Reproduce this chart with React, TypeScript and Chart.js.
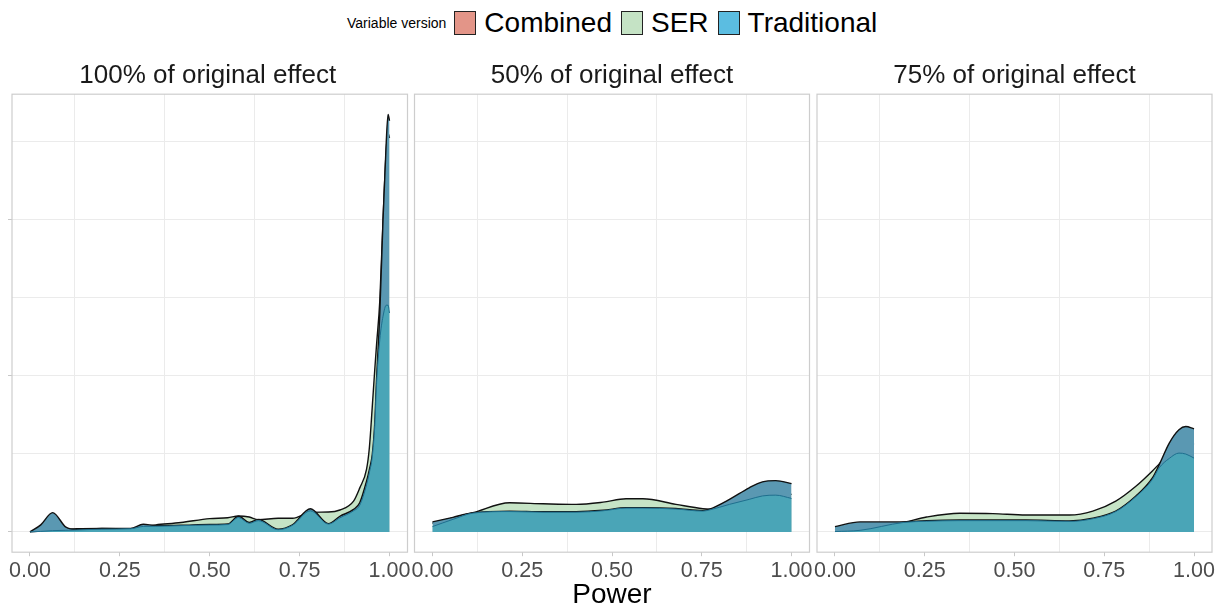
import React, { useEffect, useRef } from 'react';
import { Chart, registerables } from 'chart.js';

Chart.register(...registerables);

const FONT = '"Liberation Sans", Arial, Helvetica, sans-serif';

// ---- legend / labels ----
const SERIES_NAMES = ['Combined', 'SER', 'Traditional'];
const LEGEND_COLORS = ['#E39588', '#C5E3C5', '#5BBDE1'];
const LEGEND_TITLE = 'Variable version';
const PANEL_TITLES = ['100% of original effect', '50% of original effect', '75% of original effect'];
const X_TITLE = 'Power';

// ---- axes ----
const X_TICKS = [0, 0.25, 0.5, 0.75, 1];
const X_TICK_LABELS = ['0.00', '0.25', '0.50', '0.75', '1.00'];
const X_MINOR = [0.125, 0.375, 0.625, 0.875];
const Y_GRID = [0, 5, 10, 15, 20, 25];
const Y_MAJOR = [0, 10, 20];

// ---- panel 1: 100% of original effect ----
const P1_X = [0, 0.03, 0.063, 0.1, 0.13, 0.2, 0.28, 0.315, 0.35, 0.42, 0.5, 0.55, 0.58, 0.61, 0.635, 0.69, 0.73, 0.78, 0.83, 0.862, 0.9, 0.917, 0.936, 0.944, 0.952, 0.959, 0.964, 0.973, 0.982, 0.991, 0.996, 1.0];
const P1_COMBINED = [0, 0.45, 1.23, 0.3, 0.15, 0.22, 0.22, 0.49, 0.4, 0.42, 0.47, 0.5, 1.0, 0.6, 0.8, 0.17, 0.45, 1.48, 0.53, 1.0, 1.44, 1.86, 3.24, 4.0, 4.94, 7.0, 9.8, 14, 20, 25, 26.7, 26.3];
const P1_SER = [0, 0.05, 0.1, 0.15, 0.2, 0.22, 0.2, 0.35, 0.45, 0.6, 0.85, 0.9, 1.02, 0.95, 0.78, 0.87, 0.87, 1.25, 1.27, 1.4, 1.97, 2.8, 4.0, 5.4, 8.0, 10.4, 12.0, 14.8, 20, 24.5, 25.5, 25.2];
const P1_TRADITIONAL = [0, 0.03, 0.08, 0.1, 0.12, 0.17, 0.2, 0.35, 0.36, 0.4, 0.44, 0.47, 0.92, 0.55, 0.72, 0.14, 0.42, 1.35, 0.5, 0.9, 1.35, 1.7, 3.0, 3.8, 4.8, 6.8, 9.5, 12.3, 13.8, 14.5, 14.5, 14.0];

// ---- panel 2: 50% of original effect ----
const P2_X = [0, 0.057, 0.113, 0.215, 0.308, 0.4, 0.475, 0.539, 0.586, 0.678, 0.753, 0.771, 0.827, 0.882, 0.919, 0.956, 1.0];
const P2_COMBINED = [0.64, 0.93, 1.23, 1.33, 1.29, 1.29, 1.38, 1.55, 1.55, 1.5, 1.36, 1.45, 2.08, 2.82, 3.2, 3.28, 3.09];
const P2_SER = [0.55, 0.9, 1.23, 1.86, 1.8, 1.76, 1.9, 2.12, 2.12, 1.76, 1.48, 1.45, 1.7, 2.1, 2.4, 2.5, 2.4];
const P2_TRADITIONAL = [0.34, 0.8, 1.2, 1.3, 1.26, 1.26, 1.35, 1.52, 1.52, 1.46, 1.33, 1.4, 1.76, 2.08, 2.3, 2.35, 2.14];

// ---- panel 3: 75% of original effect ----
const P3_X = [0, 0.07, 0.19, 0.255, 0.347, 0.44, 0.532, 0.653, 0.718, 0.782, 0.838, 0.884, 0.903, 0.931, 0.958, 0.977, 1.0];
const P3_COMBINED = [0.34, 0.64, 0.64, 0.72, 0.76, 0.76, 0.76, 0.7, 0.87, 1.33, 2.29, 3.45, 4.3, 5.68, 6.53, 6.74, 6.59];
const P3_SER = [0.15, 0.35, 0.62, 0.95, 1.19, 1.17, 1.08, 1.08, 1.33, 1.97, 2.92, 3.9, 4.35, 5.0, 5.5, 5.7, 5.6];
const P3_TRADITIONAL = [0.02, 0.1, 0.6, 0.68, 0.72, 0.72, 0.72, 0.67, 0.84, 1.3, 2.25, 3.35, 4.1, 4.7, 5.04, 4.98, 4.72];

// drawn colours of the overlapping translucent areas
const AREA_FILL = { Combined: '#5A98B2', SER: '#C6E4C6', Traditional: '#4AA5B7' };
const AREA_LINE = { Combined: '#111111', SER: '#111111', Traditional: '#1E6F8E' };

const borderPlugin = {
  id: 'panelBorder',
  afterDatasetsDraw(chart: any) {
    const { ctx, chartArea: a } = chart;
    ctx.save();
    ctx.strokeStyle = '#CDCDCD';
    ctx.lineWidth = 1.2;
    ctx.strokeRect(a.left, a.top, a.right - a.left, a.bottom - a.top);
    ctx.restore();
  },
};

type PanelProps = {
  title: string;
  xs: number[];
  combined: number[];
  ser: number[];
  trad: number[];
  yTicks: boolean;
  left: number;
  width: number;
  padLeft: number;
  padRight: number;
};

const CANVAS_H = 526;

function Panel(p: PanelProps) {
  const ref = useRef<HTMLCanvasElement | null>(null);
  useEffect(() => {
    if (!ref.current) return;
    const pts = (ys: number[]) => p.xs.map((x, i) => ({ x, y: ys[i] }));
    const mk = (name: string, ys: number[], order: number, bw: number) => ({
      label: name,
      data: pts(ys),
      order,
      fill: 'origin',
      backgroundColor: (AREA_FILL as any)[name],
      borderColor: (AREA_LINE as any)[name],
      borderWidth: bw,
      pointRadius: 0,
      cubicInterpolationMode: 'monotone',
    });
    const xAll = [...X_TICKS, ...X_MINOR].sort((a, b) => a - b);
    const chart = new Chart(ref.current, {
      type: 'line',
      data: {
        datasets: [
          mk('Traditional', p.trad, 0, 1),
          mk('Combined', p.combined, 1, 1.4),
          mk('SER', p.ser, 2, 1.4),
        ] as any,
      },
      options: {
        animation: false,
        responsive: false,
        layout: { padding: { left: p.padLeft, right: p.padRight, top: 0, bottom: 0 } },
        plugins: {
          legend: { display: false },
          tooltip: { enabled: false },
          title: {
            display: true,
            text: p.title,
            color: '#1A1A1A',
            font: { family: FONT, size: 26, weight: 'normal' as any },
            padding: { top: 0, bottom: 3 },
          },
        },
        scales: {
          x: {
            type: 'linear',
            min: -0.05,
            max: 1.05,
            afterBuildTicks: (s: any) => {
              s.ticks = xAll.map((v) => ({ value: v }));
            },
            ticks: {
              autoSkip: false,
              maxRotation: 0,
              padding: 2,
              color: '#4D4D4D',
              font: { family: FONT, size: 21.5 },
              callback: (v: any) => {
                const i = X_TICKS.indexOf(Number(v));
                return i >= 0 ? X_TICK_LABELS[i] : '';
              },
            },
            grid: {
              color: (c: any) => (X_MINOR.includes(c.tick?.value) ? '#EBEBEB' : 'rgba(0,0,0,0)'),
              tickColor: (c: any) => (X_TICKS.includes(c.tick?.value) ? '#C8C8C8' : 'rgba(0,0,0,0)'),
              tickLength: 4,
              lineWidth: 1,
            },
            border: { display: false },
          },
          y: {
            type: 'linear',
            min: -1.3,
            max: 28,
            afterBuildTicks: (s: any) => {
              s.ticks = Y_GRID.map((v) => ({ value: v }));
            },
            ticks: { display: false },
            grid: {
              color: '#EBEBEB',
              drawTicks: p.yTicks,
              tickLength: 4,
              tickColor: (c: any) => (Y_MAJOR.includes(c.tick?.value) ? '#C8C8C8' : 'rgba(0,0,0,0)'),
              lineWidth: 1,
            },
            border: { display: false },
          },
        },
      } as any,
      plugins: [borderPlugin],
    });
    return () => chart.destroy();
  }, []);
  return (
    <canvas
      ref={ref}
      width={p.width}
      height={CANVAS_H}
      style={{ position: 'absolute', left: p.left, top: 60, width: p.width, height: CANVAS_H }}
    />
  );
}

export default function App() {
  return (
    <div style={{ position: 'absolute', left: 0, top: 0, width: 1220, height: 608, background: '#fff', fontFamily: FONT, overflow: 'hidden' }}>
      <div style={{ position: 'absolute', left: 347, top: 11, height: 24, display: 'flex', alignItems: 'center', whiteSpace: 'nowrap' }}>
        <span style={{ fontSize: 14, color: '#000', marginRight: 8 }}>{LEGEND_TITLE}</span>
        {SERIES_NAMES.map((n, i) => (
          <React.Fragment key={n}>
            <span style={{ display: 'inline-block', width: 22, height: 24, boxSizing: 'border-box', border: '1.2px solid #222', background: LEGEND_COLORS[i], marginRight: 8 }} />
            <span style={{ fontSize: 28, color: '#000', marginRight: 9, lineHeight: '24px' }}>{n}</span>
          </React.Fragment>
        ))}
      </div>
      <Panel title={PANEL_TITLES[0]} xs={P1_X} combined={P1_COMBINED} ser={P1_SER} trad={P1_TRADITIONAL} yTicks={true} left={0} width={430} padLeft={8} padRight={22.5} />
      <Panel title={PANEL_TITLES[1]} xs={P2_X} combined={P2_COMBINED} ser={P2_SER} trad={P2_TRADITIONAL} yTicks={false} left={400} width={430} padLeft={14.5} padRight={20.5} />
      <Panel title={PANEL_TITLES[2]} xs={P3_X} combined={P3_COMBINED} ser={P3_SER} trad={P3_TRADITIONAL} yTicks={false} left={800} width={420} padLeft={17} padRight={8} />
      <div style={{ position: 'absolute', left: 512, width: 200, top: 580, textAlign: 'center', fontSize: 28, lineHeight: '28px', color: '#000' }}>{X_TITLE}</div>
    </div>
  );
}
